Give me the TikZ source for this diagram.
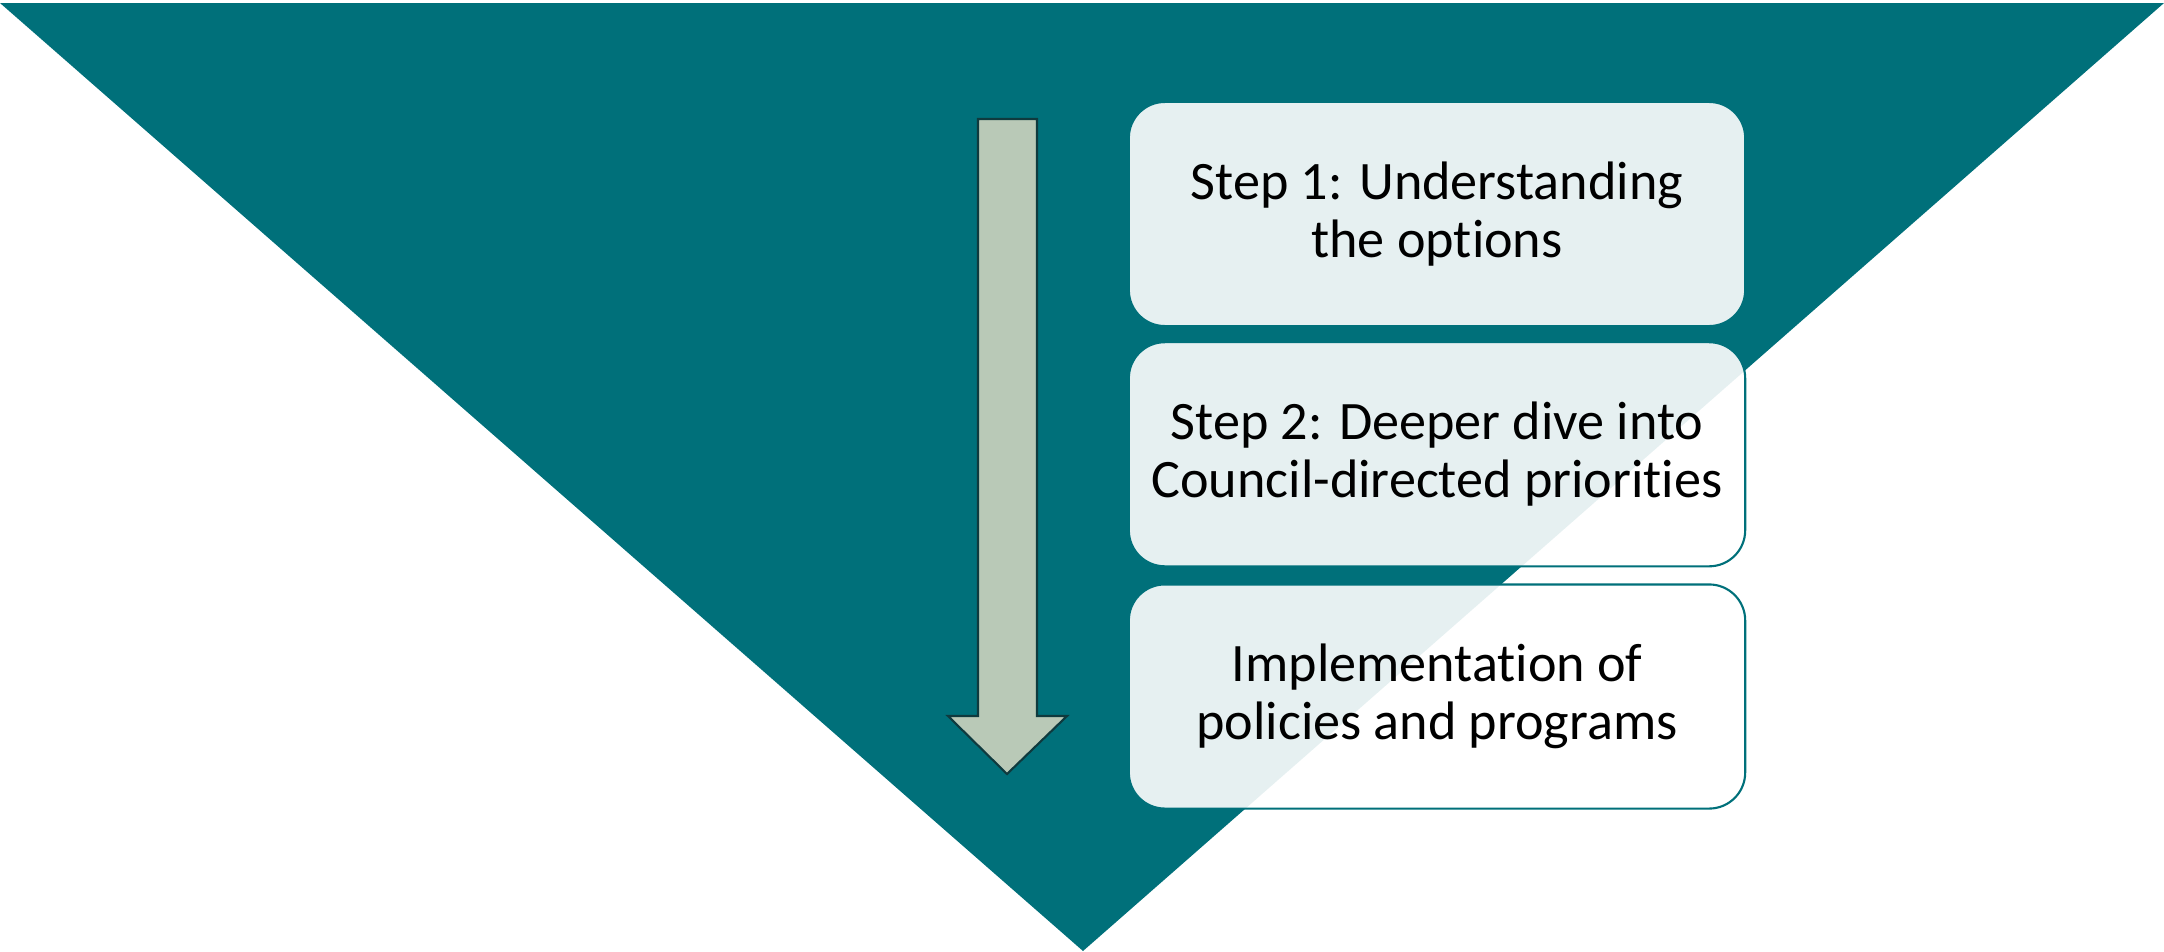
\documentclass[tikz,border=0pt]{standalone}
\usepackage{fontspec}
\setmainfont{Carlito}[Ligatures=NoCommon]
\usetikzlibrary{positioning}
\definecolor{funnelteal}{HTML}{00707A}
\definecolor{arrowsage}{HTML}{B9C9B7}
\definecolor{arrowline}{HTML}{0F3A3E}
\tikzset{
  stagebox/.style={draw=funnelteal, line width=0.6pt, fill=white, fill opacity=0.9, text opacity=1,
    rounded corners=0.36cm, minimum width=6.16cm, minimum height=2.24cm, align=center,
    font=\fontsize{15.4pt}{16.6pt}\selectfont},
}
\begin{document}
\begin{tikzpicture}[x=0.01cm, y=-0.01cm]
    \useasboundingbox (0,0) rectangle (2164,951);
    % funnel
    \fill [funnelteal] (0,3) -- (2164,3) -- (1083,951) -- cycle;
    % down arrow
    \draw [arrowline, fill=arrowsage, line width=0.6pt] (978,119) -- (1037,119) -- (1037,716) -- (1067,716)
        -- (1007,774) -- (948,716) -- (978,716) -- cycle;
    % stages
    \node [stagebox] (understand) at (1437,214) {Step 1: Understanding\\the options};
    \node [stagebox, below=0.14cm of understand] (deeper) {Step 2: Deeper dive into\\Council-directed priorities};
    \node [stagebox, below=0.16cm of deeper] (implement) {Implementation of\\policies and programs};
\end{tikzpicture}
\end{document}
